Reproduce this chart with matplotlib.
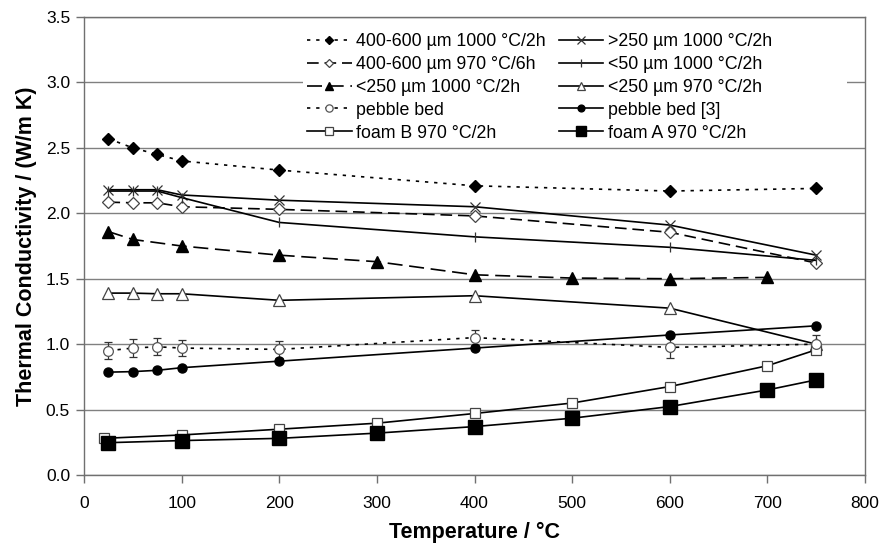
import matplotlib
matplotlib.use("Agg")
import matplotlib.pyplot as plt
from matplotlib.patches import Rectangle

plt.rcParams['font.family'] = ['Liberation Sans', 'DejaVu Sans']

# ---- data ----
t_a = [25, 50, 75, 100, 200, 400, 600, 750]
k_4060_1000 = [2.57, 2.50, 2.45, 2.40, 2.33, 2.21, 2.17, 2.19]
k_gt250_1000 = [2.18, 2.18, 2.18, 2.14, 2.10, 2.05, 1.91, 1.68]
k_4060_970 = [2.085, 2.08, 2.08, 2.05, 2.03, 1.98, 1.855, 1.62]
t_lt50 = [25, 50, 75, 100, 200, 400, 600, 750]
k_lt50_1000 = [2.17, 2.17, 2.17, 2.12, 1.93, 1.82, 1.74, 1.64]
t_lt250_1000 = [25, 50, 100, 200, 300, 400, 500, 600, 700]
k_lt250_1000 = [1.86, 1.80, 1.75, 1.68, 1.63, 1.53, 1.505, 1.50, 1.51]
k_lt250_970 = [1.39, 1.39, 1.385, 1.385, 1.335, 1.37, 1.275, 1.00]
k_pebble = [0.95, 0.97, 0.98, 0.97, 0.96, 1.05, 0.975, 1.00]
err_pebble = [0.065, 0.07, 0.065, 0.06, 0.065, 0.06, 0.08, 0.07]
k_pebble3 = [0.786, 0.79, 0.80, 0.82, 0.87, 0.97, 1.07, 1.14]
t_foamB = [20, 100, 200, 300, 400, 500, 600, 700, 750]
k_foamB = [0.28, 0.306, 0.35, 0.396, 0.47, 0.55, 0.676, 0.835, 0.957]
t_foamA = [25, 100, 200, 300, 400, 500, 600, 700, 750]
k_foamA = [0.247, 0.263, 0.28, 0.32, 0.37, 0.434, 0.523, 0.65, 0.727]

labels = ["400-600 µm 1000 °C/2h", ">250 µm 1000 °C/2h",
          "400-600 µm 970 °C/6h", "<50 µm 1000 °C/2h",
          "<250 µm 1000 °C/2h", "<250 µm 970 °C/2h",
          "pebble bed", "pebble bed [3]",
          "foam B 970 °C/2h", "foam A 970 °C/2h"]
x_ticks = [0, 100, 200, 300, 400, 500, 600, 700, 800]
y_ticks = [0.0, 0.5, 1.0, 1.5, 2.0, 2.5, 3.0, 3.5]

fig = plt.figure(figsize=(8.8, 5.43), dpi=100)
ax = fig.add_axes([84/880, 68/543, 781/880, 458/543])

lw = 1.2
dot = (0, (2, 3.5))
h = {}
h[0], = ax.plot(t_a, k_4060_1000, color='black', lw=lw, ls=dot, marker='D', ms=6, mfc='black', mec='black')
h[1], = ax.plot(t_a, k_gt250_1000, color='black', lw=lw, ls='-', marker='x', ms=7, mew=0.9, mec='#333333')
h[2], = ax.plot(t_a, k_4060_970, color='black', lw=lw, ls=(0, (7, 3.5)), marker='D', ms=6, mfc='white', mec='#444444', mew=0.9)
h[3], = ax.plot(t_lt50, k_lt50_1000, color='black', lw=lw, ls='-', marker='|', ms=7, mew=0.9, mec='#333333')
h[4], = ax.plot(t_lt250_1000, k_lt250_1000, color='black', lw=lw, ls=(0, (9, 4)), marker='^', ms=8, mfc='black', mec='black')
h[5], = ax.plot(t_a, k_lt250_970, color='black', lw=lw, ls='-', marker='^', ms=8, mfc='white', mec='#444444', mew=0.9)
eb = ax.errorbar(t_a, k_pebble, yerr=err_pebble, color='black', lw=lw, ls=dot, marker='o', ms=7,
                 mfc='white', mec='#555555', mew=0.9, ecolor='#333333', elinewidth=0.9, capsize=3, capthick=0.9)
h[6] = eb.lines[0]
h[7], = ax.plot(t_a, k_pebble3, color='black', lw=lw, ls='-', marker='o', ms=6.5, mfc='black', mec='black')
h[8], = ax.plot(t_foamB, k_foamB, color='black', lw=lw, ls='-', marker='s', ms=7.5, mfc='white', mec='#444444', mew=0.9)
h[9], = ax.plot(t_foamA, k_foamA, color='black', lw=lw, ls='-', marker='s', ms=9.5, mfc='black', mec='black')

ax.set_xlim(0, 800)
ax.set_ylim(0, 3.5)
ax.set_xticks(x_ticks)
ax.set_yticks(y_ticks)
ax.set_yticklabels([f"{v:.1f}" for v in y_ticks])
ax.yaxis.grid(True, color='#808080', lw=1.0)
ax.set_axisbelow(True)
for s in ax.spines.values():
    s.set_color('#707070')
    s.set_linewidth(1.0)
ax.tick_params(axis='both', direction='out', length=6, width=1.0, color='#707070',
               labelsize=12.5, labelcolor='black', pad=4)
ax.tick_params(axis='x', pad=9)

ax.set_xlabel("Temperature / °C", fontsize=15.5, fontweight='bold', labelpad=8)
ax.set_ylabel("Thermal Conductivity / (W/m K)", fontsize=15.5, fontweight='bold', labelpad=6)

# white legend panel (covers gridline behind legend)
ax.add_patch(Rectangle(((303 - 84) / 781, (475 - 145) / 458), (847 - 303) / 781, (145 - 20) / 458,
                       transform=ax.transAxes, facecolor='white', edgecolor='none', zorder=1))

order = [0, 2, 4, 6, 8, 1, 3, 5, 7, 9]
leg = ax.legend([h[i] for i in order], [labels[i] for i in order], ncol=2,
                loc='upper left', bbox_to_anchor=((300 - 84) / 781, 1.0 - 9 / 458),
                borderaxespad=0.0, frameon=False, fontsize=12.8, markerscale=0.75,
                handlelength=2.5, handletextpad=0.25, columnspacing=0.75,
                labelspacing=0.33, borderpad=0.4)

fig.savefig("out.png", dpi=100)
